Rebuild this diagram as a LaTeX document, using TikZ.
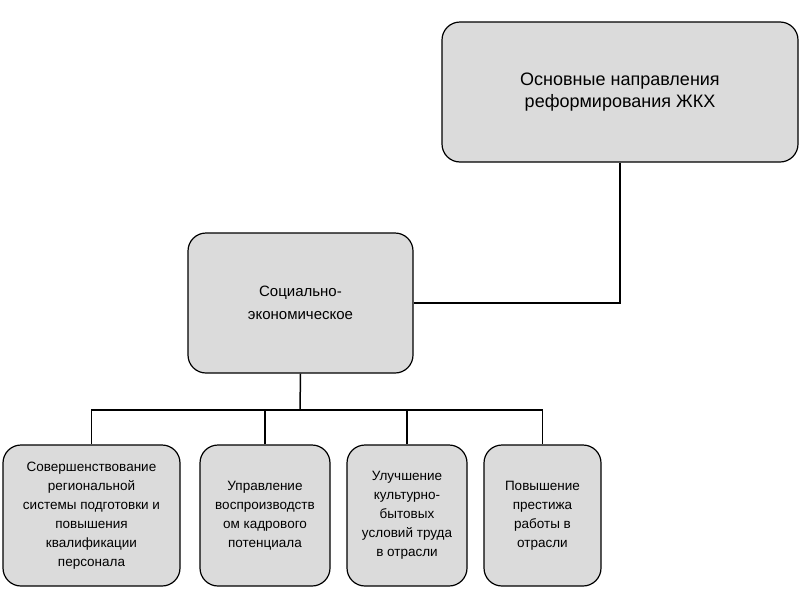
\documentclass[tikz,border=0pt]{standalone}
\usepackage{fontspec}
\setmainfont{Liberation Sans}
\begin{document}
\begin{tikzpicture}[x=1pt,y=-1pt,
  box/.style={draw=black,line width=1.2pt,fill=black!14,rounded corners=18pt,align=center,inner sep=0pt},
  ln/.style={line width=1.5pt}]
\useasboundingbox (0,0) rectangle (800,600);
\node[box,minimum width=356pt,minimum height=140pt,font=\fontsize{18}{22}\selectfont] (top) at (620,92) {Основные направления\\реформирования ЖКХ};
\node[box,minimum width=225pt,minimum height=140pt,font=\fontsize{15}{23}\selectfont] (mid) at (300.5,303) {Социально-\\экономическое};
\node[box,minimum width=177pt,minimum height=141pt,font=\fontsize{13.5}{19}\selectfont] (b1) at (91.5,515.5) {Совершенствование\\региональной\\системы подготовки  и\\повышения\\квалификации\\персонала};
\node[box,minimum width=130pt,minimum height=141pt,font=\fontsize{13.5}{19}\selectfont] (b2) at (265,515.5) {Управление\\воспроизводств\\ом кадрового\\потенциала};
\node[box,minimum width=120pt,minimum height=141pt,font=\fontsize{13.5}{19}\selectfont] (b3) at (407,515.5) {Улучшение\\культурно-\\бытовых\\условий труда\\в отрасли};
\node[box,minimum width=117pt,minimum height=141pt,font=\fontsize{13.5}{19}\selectfont] (b4) at (542.5,515.5) {Повышение\\престижа\\работы в\\отрасли};
\draw[ln] (top.south) |- (mid.east);
\coordinate (j) at (300,410);
\draw[ln] (mid.south) -- (j);
\draw[ln] (b1.north) |- (j) -| (b4.north);
\draw[ln] (b2.north) -- (b2.north |- j);
\draw[ln] (b3.north) -- (b3.north |- j);
\end{tikzpicture}
\end{document}
